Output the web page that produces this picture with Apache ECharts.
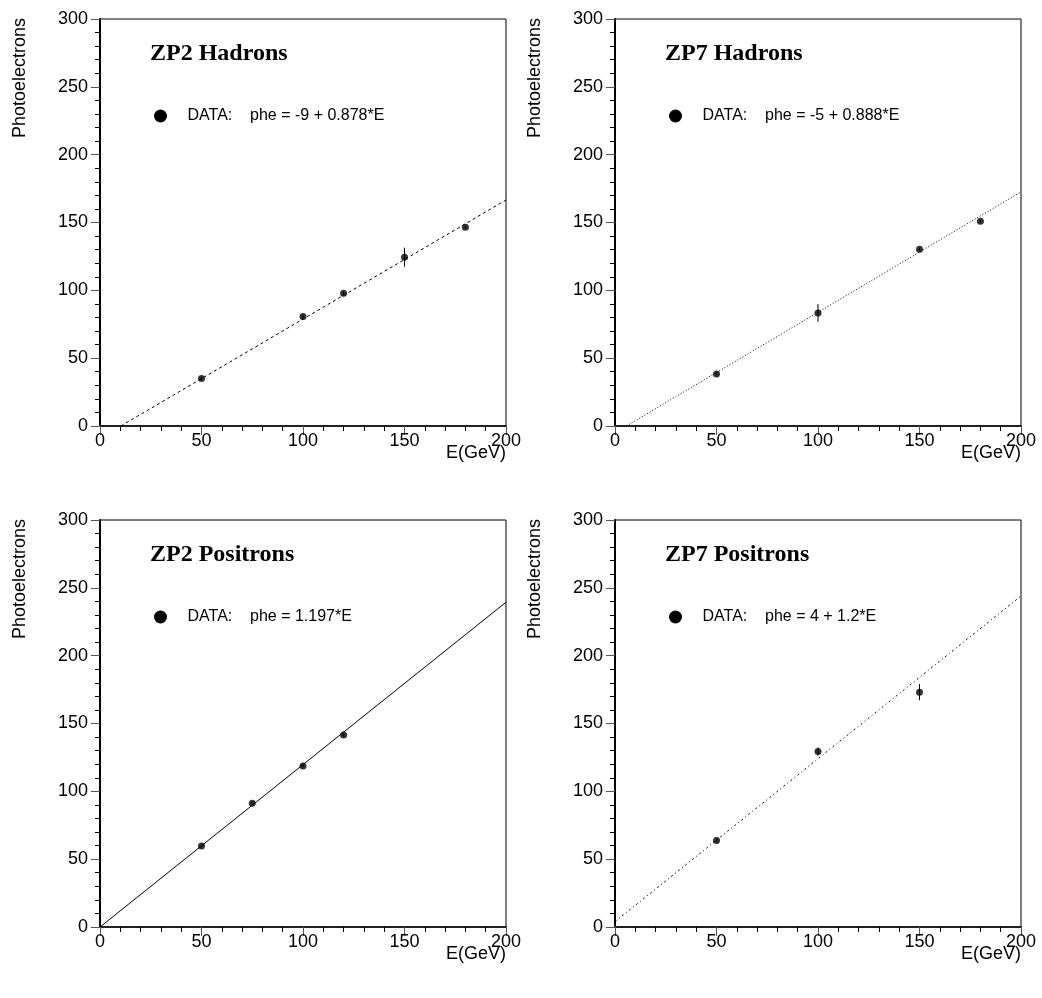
<!DOCTYPE html>
<html>
<head>
<meta charset="utf-8">
<script src="https://cdn.jsdelivr.net/npm/echarts@6/dist/echarts.min.js"></script>
<style>
  html, body { margin: 0; padding: 0; background: #fff; }
  #main { width: 1042px; height: 998px; }
</style>
</head>
<body>
<div id="main"></div>
<script>
// panel titles and fit labels
var titles = ['ZP2 Hadrons', 'ZP7 Hadrons', 'ZP2 Positrons', 'ZP7 Positrons'];
var fitLabels = [
    'DATA:    phe = -9 + 0.878*E',
    'DATA:    phe = -5 + 0.888*E',
    'DATA:    phe = 1.197*E',
    'DATA:    phe = 4 + 1.2*E'
];

// measured points: [E, phe, error]
var zp2Hadrons = [[50, 35, 1], [100, 80.7, 1], [120, 97.9, 1], [150, 124.4, 7], [180, 146.5, 1]];
var zp7Hadrons = [[50, 38.3, 1], [100, 83.3, 6.5], [150, 130.3, 1], [180, 151, 1]];
var zp2Positrons = [[50, 59.7, 1], [75, 91.2, 1], [100, 118.6, 1], [120, 141.6, 1]];
var zp7Positrons = [[50, 63.7, 1], [100, 129.3, 3], [150, 173.1, 6]];

// fit line end points
var fitZp2Hadrons = [[10.25, 0], [200, 166.6]];
var fitZp7Hadrons = [[5.63, 0], [200, 172.6]];
var fitZp2Positrons = [[0, 0], [200, 239.4]];
var fitZp7Positrons = [[0, 4], [200, 244]];

var pointSets = [zp2Hadrons, zp7Hadrons, zp2Positrons, zp7Positrons];
var fitSets = [fitZp2Hadrons, fitZp7Hadrons, fitZp2Positrons, fitZp7Positrons];
var lineTypes = [[3, 3], [1, 2], 'solid', [2, 3, 1, 3]];

var xTicks = [0, 50, 100, 150, 200];
var yTicks = [0, 50, 100, 150, 200, 250, 300];

var panelLeft = [100, 615, 100, 615];
var panelTop = [19, 19, 520, 520];
var panelW = 406, panelH = 407;

var font = 'Liberation Sans, Arial, Helvetica, sans-serif';

var myChart = echarts.init(document.getElementById('main'));

var grids = [], xAxes = [], yAxes = [], series = [], legends = [], graphics = [];

for (var i = 0; i < 4; i++) {
    grids.push({
        left: panelLeft[i], top: panelTop[i], width: panelW, height: panelH,
        show: true, borderColor: '#000', borderWidth: 1, backgroundColor: 'transparent'
    });
    xAxes.push({
        gridIndex: i, type: 'value', min: xTicks[0], max: xTicks[xTicks.length - 1], interval: 50,
        axisLine: { onZero: false, lineStyle: { color: '#222', width: 2 } },
        axisTick: { show: true, inside: false, length: 9, lineStyle: { color: '#555', width: 1 } },
        minorTick: { show: true, splitNumber: 5, length: 5, lineStyle: { color: '#000', width: 1 } },
        splitLine: { show: false },
        axisLabel: { color: '#000', fontSize: 18, fontFamily: font, margin: 6 }
    });
    yAxes.push({
        gridIndex: i, type: 'value', min: yTicks[0], max: yTicks[yTicks.length - 1], interval: 50,
        axisLine: { onZero: false, lineStyle: { color: '#000', width: 2 } },
        axisTick: { show: true, inside: false, length: 9, lineStyle: { color: '#555', width: 1 } },
        minorTick: { show: true, splitNumber: 5, length: 5, lineStyle: { color: '#000', width: 1 } },
        splitLine: { show: false },
        axisLabel: { color: '#000', fontSize: 18, fontFamily: font, margin: 12 }
    });

    series.push({
        name: 'fit' + i, type: 'line', xAxisIndex: i, yAxisIndex: i,
        data: fitSets[i], symbol: 'none', silent: true,
        lineStyle: { color: '#000', width: 1, type: lineTypes[i] },
        z: 2
    });
    series.push({
        name: fitLabels[i], type: 'custom', xAxisIndex: i, yAxisIndex: i,
        data: pointSets[i], silent: true,
        renderItem: function (params, api) {
            var x = api.value(0), y = api.value(1), e = api.value(2);
            var p1 = api.coord([x, y - e]);
            var p2 = api.coord([x, y + e]);
            return {
                type: 'line',
                shape: { x1: p1[0], y1: p1[1], x2: p2[0], y2: p2[1] },
                style: { stroke: '#000', lineWidth: 1 }
            };
        },
        z: 3
    });
    series.push({
        name: fitLabels[i], type: 'scatter', xAxisIndex: i, yAxisIndex: i,
        data: pointSets[i].map(function (d) { return [d[0], d[1]]; }),
        symbol: 'circle', symbolSize: 7, silent: true,
        itemStyle: { color: '#000' },
        z: 4
    });

    legends.push({
        data: [{ name: fitLabels[i], icon: 'circle' }],
        left: panelLeft[i] + 49, top: panelTop[i] + 84,
        itemWidth: 44, itemHeight: 13, selectedMode: false,
        itemStyle: { color: '#000' },
        textStyle: { color: '#000', fontSize: 16, fontFamily: font }
    });

    graphics.push({
        type: 'text', left: panelLeft[i] + 50, top: panelTop[i] + 23,
        style: { text: titles[i], fill: '#000', font: 'bold 24px "Liberation Serif", "Times New Roman", serif' }
    });
    graphics.push({
        type: 'text', x: panelLeft[i] + panelW, y: panelTop[i] + panelH + 18,
        style: { text: 'E(GeV)', fill: '#000', font: '18px ' + font, align: 'right', verticalAlign: 'top' }
    });
    graphics.push({
        type: 'text', x: panelLeft[i] - 80, y: panelTop[i] - 1, rotation: Math.PI / 2,
        style: { text: 'Photoelectrons', fill: '#000', font: '18px ' + font, align: 'right', verticalAlign: 'middle' }
    });
}

var option = {
    animation: false,
    backgroundColor: '#fff',
    grid: grids,
    xAxis: xAxes,
    yAxis: yAxes,
    legend: legends,
    graphic: graphics,
    series: series
};

myChart.setOption(option);
</script>
</body>
</html>
